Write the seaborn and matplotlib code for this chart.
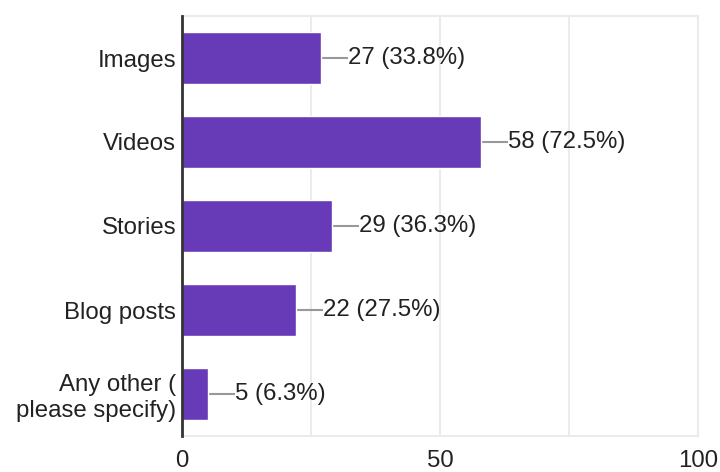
import matplotlib
matplotlib.use("Agg")
import matplotlib.pyplot as plt
import seaborn as sns
import pandas as pd

# Survey responses: content formats people prefer
categories = ["Images", "Videos", "Stories", "Blog posts", "Any other (\nplease specify)"]
counts = [27, 58, 29, 22, 5]
percents = [33.8, 72.5, 36.3, 27.5, 6.3]
x_ticks = [0, 50, 100]

df = pd.DataFrame({"category": categories, "count": counts})

sns.set_style("white")
plt.rcParams["font.family"] = ["Liberation Sans", "DejaVu Sans"]

BAR = "#673ab7"
TEXT = "#222222"
GRID = "#ebebeb"
FS = 17.3

fig = plt.figure(figsize=(7.2, 4.72), dpi=100)
ax = fig.add_axes([182 / 720, 1 - 436 / 472, 516 / 720, 420 / 472])

sns.barplot(data=df, y="category", x="count", orient="h", color=BAR,
            saturation=1, width=0.61, ax=ax, zorder=3)

ax.set_xlim(0, 100)
ax.set_ylim(4.5, -0.5)
ax.set_xticks(x_ticks)
ax.set_xticklabels([str(t) for t in x_ticks])
ax.set_xlabel("")
ax.set_ylabel("")

# light vertical grid at every quarter
for gx in [25, 50, 75, 100]:
    ax.axvline(gx, color=GRID, lw=1.5, zorder=1)

ax.tick_params(axis="both", length=0, labelsize=FS, labelcolor=TEXT)
ax.tick_params(axis="y", pad=4.3)
ax.tick_params(axis="x", pad=10)

for side in ["top", "right", "bottom"]:
    ax.spines[side].set_color(GRID)
    ax.spines[side].set_linewidth(1.5)
ax.spines["left"].set_color("#333333")
ax.spines["left"].set_linewidth(2)
ax.spines["left"].set_zorder(4)

# value labels with short leader lines
lead = 27 / 516 * 100
for i, (c, p) in enumerate(zip(counts, percents)):
    ax.plot([c, c + lead], [i, i], color="#999999", lw=1.5, zorder=2,
            solid_capstyle="butt")
    ax.text(c + lead, i, f"{c} ({p}%)", va="center", ha="left",
            fontsize=FS, color=TEXT, zorder=5)

fig.savefig("out.png", dpi=100, facecolor="white")
